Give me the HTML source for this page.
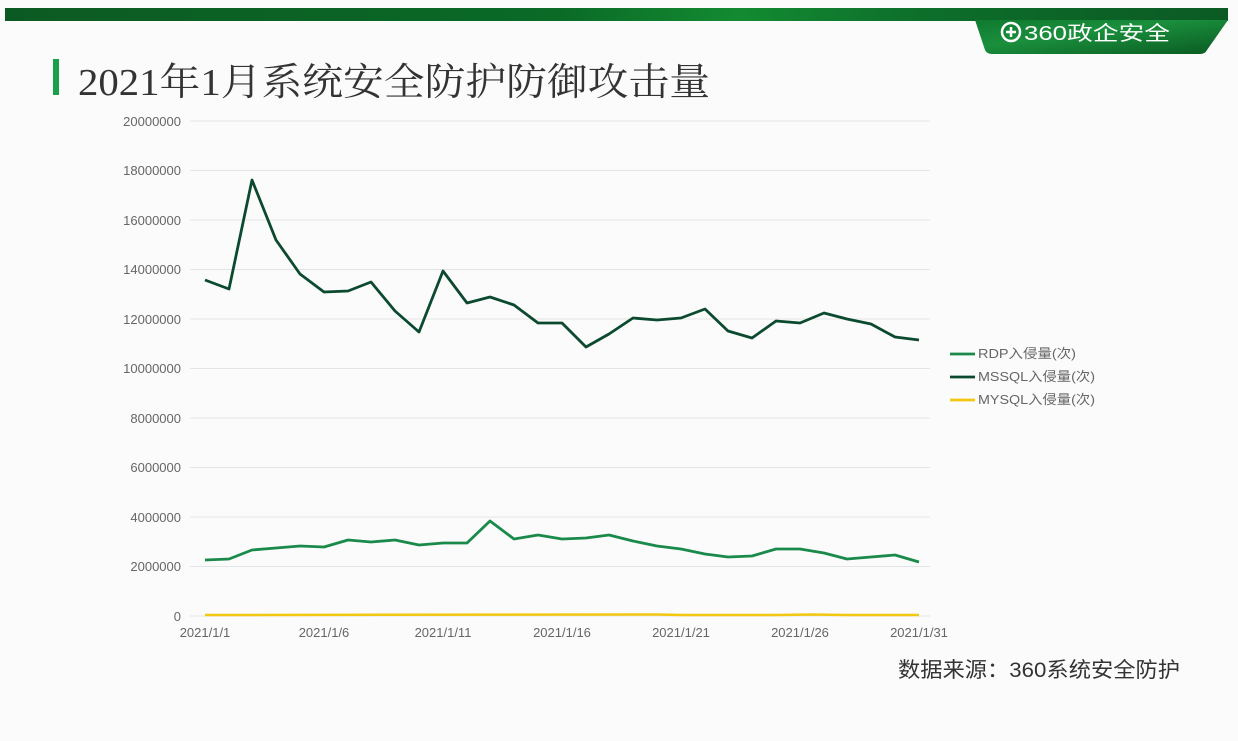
<!DOCTYPE html>
<html><head><meta charset="utf-8"><style>
body{margin:0;width:1238px;height:736px;background:#fbfbfc;overflow:hidden;font-family:"Liberation Sans","Noto Sans CJK SC",sans-serif}
</style></head><body>
<svg width="1238" height="736" xmlns="http://www.w3.org/2000/svg">
<defs>
<linearGradient id="bar" x1="0" x2="1" y1="0" y2="0">
<stop offset="0" stop-color="#0c5a23"/><stop offset="0.45" stop-color="#0a6a26"/><stop offset="0.6" stop-color="#138a32"/><stop offset="0.75" stop-color="#0d6e2a"/><stop offset="1" stop-color="#0b5a24"/></linearGradient>
<linearGradient id="tab" x1="0" x2="1" y1="0" y2="1">
<stop offset="0" stop-color="#0f7a30"/><stop offset="0.4" stop-color="#1a8f3c"/><stop offset="1" stop-color="#0a5a22"/></linearGradient>
</defs>
<rect x="5" y="8" width="1223" height="13" fill="url(#bar)"/>
<path d="M975 20 L1228 20 L1207 50 Q1205 54 1200 54 L992 54 Q987 54 985 50 Z" fill="url(#tab)"/>
<circle cx="1011" cy="32" r="9" fill="none" stroke="#fff" stroke-width="2.5"/>
<path d="M1011 27v10M1006 32h10" stroke="#fff" stroke-width="2.5"/>
<text x="1024" y="40" font-size="20" fill="#fff" textLength="146" lengthAdjust="spacingAndGlyphs" font-family="Liberation Sans,Noto Sans CJK SC,sans-serif">360政企安全</text>
<rect x="53" y="59" width="6" height="36" fill="#1aa04a"/>
<text x="78" y="95" font-size="38" fill="#333" textLength="632" lengthAdjust="spacingAndGlyphs" font-family="Liberation Serif,Noto Serif CJK SC,serif">2021年1月系统安全防护防御攻击量</text>
<g stroke="#e4e4e6" stroke-width="1">
<line x1="190" x2="930" y1="121" y2="121"/><line x1="190" x2="930" y1="170.5" y2="170.5"/><line x1="190" x2="930" y1="220" y2="220"/><line x1="190" x2="930" y1="269.5" y2="269.5"/><line x1="190" x2="930" y1="319" y2="319"/><line x1="190" x2="930" y1="368.5" y2="368.5"/><line x1="190" x2="930" y1="418" y2="418"/><line x1="190" x2="930" y1="467.5" y2="467.5"/><line x1="190" x2="930" y1="517" y2="517"/><line x1="190" x2="930" y1="566.5" y2="566.5"/><line x1="190" x2="930" y1="616" y2="616"/>
</g>
<g font-size="13" fill="#666" text-anchor="end">
<text x="181" y="126">20000000</text><text x="181" y="175">18000000</text><text x="181" y="225">16000000</text><text x="181" y="274">14000000</text><text x="181" y="324">12000000</text><text x="181" y="373">10000000</text><text x="181" y="423">8000000</text><text x="181" y="472">6000000</text><text x="181" y="522">4000000</text><text x="181" y="571">2000000</text><text x="181" y="621">0</text>
</g>
<g font-size="13" fill="#666" text-anchor="middle">
<text x="205" y="637">2021/1/1</text><text x="324" y="637">2021/1/6</text><text x="443" y="637">2021/1/11</text><text x="562" y="637">2021/1/16</text><text x="681" y="637">2021/1/21</text><text x="800" y="637">2021/1/26</text><text x="919" y="637">2021/1/31</text>
</g>
<polyline fill="none" stroke="#f2c811" stroke-width="2.5" points="205,615 657,614.5 681,615 776,615 812,614.5 847,615 919,615"/>
<polyline fill="none" stroke="#1a8a4a" stroke-width="2.8" stroke-linejoin="round" points="205,560 229,559 252,550 276,548 300,546 324,547 348,540 371,542 395,540 419,545 443,543 467,543 490,521 514,539 538,535 562,539 586,538 609,535 633,541 657,546 681,549 705,554 728,557 752,556 776,549 800,549 824,553 847,559 871,557 895,555 919,562"/>
<polyline fill="none" stroke="#0b4a2e" stroke-width="2.8" stroke-linejoin="round" points="205,280 229,289 252,180 276,240 300,274 324,292 348,291 371,282 395,311 419,332 443,271 467,303 490,297 514,305 538,323 562,323 586,347 609,334 633,318 657,320 681,318 705,309 728,331 752,338 776,321 800,323 824,313 847,319 871,324 895,337 919,340"/>
<g font-size="13" fill="#666">
<line x1="950" x2="975" y1="354" y2="354" stroke="#1a8a4a" stroke-width="2.8"/><text x="978" y="358" textLength="98" lengthAdjust="spacingAndGlyphs">RDP入侵量(次)</text>
<line x1="950" x2="975" y1="377" y2="377" stroke="#0b4a2e" stroke-width="2.8"/><text x="978" y="381" textLength="117" lengthAdjust="spacingAndGlyphs">MSSQL入侵量(次)</text>
<line x1="950" x2="975" y1="400" y2="400" stroke="#f2c811" stroke-width="2.8"/><text x="978" y="404" textLength="117" lengthAdjust="spacingAndGlyphs">MYSQL入侵量(次)</text>
</g>
<text x="898" y="677" font-size="21" fill="#333" textLength="282" lengthAdjust="spacingAndGlyphs">数据来源：360系统安全防护</text>
</svg>
</body></html>
